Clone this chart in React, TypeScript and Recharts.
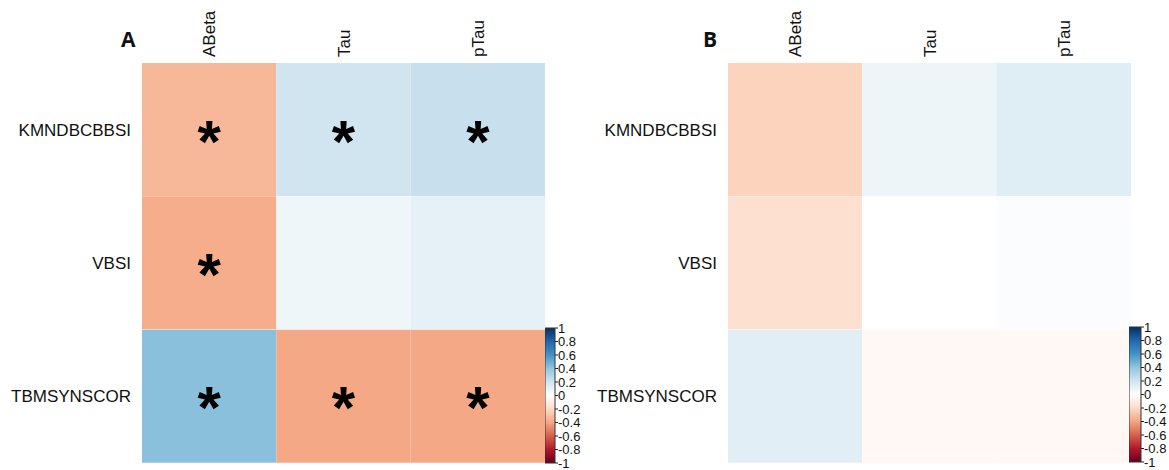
import { Bar, BarChart, Cell, LabelList, XAxis, YAxis } from "recharts";

const rows = ["KMNDBCBBSI", "VBSI", "TBMSYNSCOR"];
const cols = ["ABeta", "Tau", "pTau"];

// panel A correlations, one array per column (rows top to bottom)
const aAbeta = [-0.33, -0.37, 0.42];
const aTau = [0.2, 0.07, -0.39];
const aPTau = [0.23, 0.11, -0.39];
const aSigAbeta = [true, true, true];
const aSigTau = [true, false, true];
const aSigPTau = [true, false, true];

// panel B correlations
const bAbeta = [-0.23, -0.17, 0.13];
const bTau = [0.08, 0.0, -0.04];
const bPTau = [0.14, 0.02, -0.04];
const bSigAbeta = [false, false, false];
const bSigTau = [false, false, false];
const bSigPTau = [false, false, false];

const barTicks = [1, 0.8, 0.6, 0.4, 0.2, 0, -0.2, -0.4, -0.6, -0.8, -1];

// corrplot RdBu, from -1 to 1
const PALETTE = ["#67001F", "#B2182B", "#D6604D", "#F4A582", "#FDDBC7", "#FFFFFF", "#D1E5F0", "#92C5DE", "#4393C3", "#2166AC", "#053061"];

const hex = (h: string) => [1, 3, 5].map((i) => parseInt(h.slice(i, i + 2), 16));

const colorFor = (v: number) => {
  const p = ((v + 1) / 2) * (PALETTE.length - 1);
  const i = Math.min(Math.floor(p), PALETTE.length - 2);
  const t = p - i;
  const a = hex(PALETTE[i]);
  const b = hex(PALETTE[i + 1]);
  const c = a.map((x, k) => Math.round(x + (b[k] - x) * t));
  return `rgb(${c[0]},${c[1]},${c[2]})`;
};

const FONT = "'Liberation Sans', Arial, sans-serif";

const ColTick = (props: any) => {
  const { x, y, payload } = props;
  return (
    <text
      transform={`translate(${x},${y}) rotate(-90)`}
      textAnchor="start"
      dy="0.36em"
      fontSize={17}
      fill="#111"
      fontFamily={FONT}
    >
      {cols[Math.floor(payload.value)]}
    </text>
  );
};

const Star = (props: any) => {
  const { x, y, width, height, value } = props;
  if (!value) return null;
  return (
    <text
      x={x + width / 2}
      y={y + height / 2 + 32}
      textAnchor="middle"
      fontSize={60}
      fontWeight="bold"
      fill="#000"
      fontFamily={FONT}
    >
      *
    </text>
  );
};

const Heatmap = ({ cells, sigs }: { cells: number[][]; sigs: boolean[][] }) => {
  const data = rows.map((r, i) => ({
    row: r,
    c0: 1,
    c1: 1,
    c2: 1,
    s0: sigs[0][i] ? "*" : "",
    s1: sigs[1][i] ? "*" : "",
    s2: sigs[2][i] ? "*" : "",
  }));
  return (
    <BarChart
      width={560}
      height={470}
      data={data}
      layout="vertical"
      barCategoryGap={0}
      margin={{ top: 0, right: 15, bottom: 7, left: 0 }}
    >
      <XAxis
        type="number"
        orientation="top"
        domain={[0, 3]}
        ticks={[0.5, 1.5, 2.5]}
        interval={0}
        height={63}
        axisLine={false}
        tickLine={false}
        tickSize={0}
        tickMargin={6}
        tick={<ColTick />}
      />
      <YAxis
        type="category"
        dataKey="row"
        width={142}
        axisLine={false}
        tickLine={false}
        tickSize={0}
        tickMargin={11}
        tick={{ fontSize: 17, fill: "#111", fontFamily: FONT }}
      />
      {[0, 1, 2].map((c) => (
        <Bar key={c} dataKey={`c${c}`} stackId="m" isAnimationActive={false}>
          {rows.map((r, i) => (
            <Cell key={r} fill={colorFor(cells[c][i])} />
          ))}
          <LabelList dataKey={`s${c}`} content={<Star />} />
        </Bar>
      ))}
    </BarChart>
  );
};

const ColorBar = ({ id, barWidth }: { id: string; barWidth: number }) => (
  <BarChart
    width={barWidth + 34}
    height={160}
    data={[{ k: "cb", v: [-1, 1] }]}
    barCategoryGap={0}
    margin={{ top: 8, right: 0, bottom: 17, left: 0 }}
  >
    <defs>
      <linearGradient id={id} x1="0" y1="0" x2="0" y2="1">
        {PALETTE.slice()
          .reverse()
          .map((c, i) => (
            <stop key={i} offset={`${(i / (PALETTE.length - 1)) * 100}%`} stopColor={c} />
          ))}
      </linearGradient>
    </defs>
    <XAxis dataKey="k" hide />
    <YAxis
      orientation="right"
      type="number"
      domain={[-1, 1]}
      ticks={barTicks}
      interval={0}
      width={34}
      axisLine={false}
      tickSize={3}
      tickMargin={0}
      tickLine={{ stroke: "#222" }}
      tick={{ fontSize: 13, fill: "#111", fontFamily: FONT }}
    />
    <Bar dataKey="v" fill={`url(#${id})`} stroke="#333" strokeWidth={1} isAnimationActive={false} />
  </BarChart>
);

const letterStyle = (left: number): React.CSSProperties => ({
  position: "absolute",
  left,
  top: 29,
  fontSize: 21,
  lineHeight: 1,
  fontWeight: "bold",
  fontFamily: "'Open Sans', sans-serif",
  color: "#111",
});

export default function App() {
  return (
    <div style={{ position: "absolute", left: 0, top: 0, width: 1169, height: 470, background: "#fff", overflow: "hidden" }}>
      <div style={{ position: "absolute", left: 0, top: 0 }}>
        <Heatmap cells={[aAbeta, aTau, aPTau]} sigs={[aSigAbeta, aSigTau, aSigPTau]} />
      </div>
      <div style={{ position: "absolute", left: 586, top: 0 }}>
        <Heatmap cells={[bAbeta, bTau, bPTau]} sigs={[bSigAbeta, bSigTau, bSigPTau]} />
      </div>
      <div style={{ position: "absolute", left: 545, top: 320 }}>
        <ColorBar id="cbA" barWidth={10} />
      </div>
      <div style={{ position: "absolute", left: 1129, top: 319 }}>
        <ColorBar id="cbB" barWidth={12} />
      </div>
      <div style={letterStyle(121)}>A</div>
      <div style={letterStyle(703)}>B</div>
    </div>
  );
}
